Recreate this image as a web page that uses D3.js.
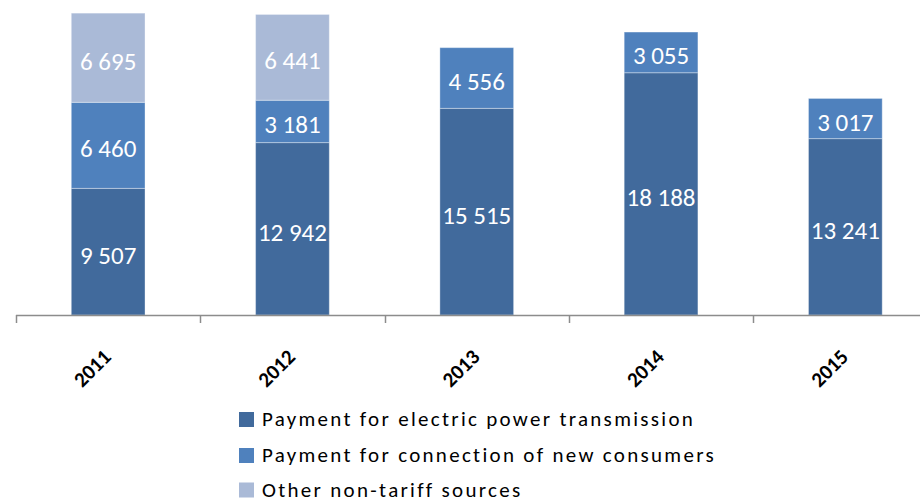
<!DOCTYPE html>
<html>
<head>
<meta charset="utf-8">
<script src="https://cdn.jsdelivr.net/npm/d3@7"></script>
<style>
  html, body { margin: 0; padding: 0; background: #fff; }
  svg { display: block; }
</style>
</head>
<body>
<svg id="chart" width="920" height="503"></svg>
<script>
const years = ["2011", "2012", "2013", "2014", "2015"];
const transmission = [9507, 12942, 15515, 18188, 13241];
const connection = [6460, 3181, 4556, 3055, 3017];
const otherSources = [6695, 6441, 0, 0, 0];
const seriesNames = [
  "Payment for electric power transmission",
  "Payment for connection of new consumers",
  "Other non-tariff sources"
];
const seriesColors = ["#416a9c", "#4f81bd", "#aabad7"];

const svg = d3.select("#chart");
const axisY = 315;
const fontFam = "Carlito, 'Open Sans', sans-serif";

const x = d3.scaleBand().domain(years).range([16, 16 + 5 * 184.3]).padding(0);
const y = d3.scaleLinear().domain([0, 25000]).range([axisY, axisY - 25000 * 0.01332]);

const seriesValues = [transmission, connection, otherSources];
const rows = years.map((yr, i) => {
  const r = { year: yr };
  seriesNames.forEach((s, k) => r[s] = seriesValues[k][i]);
  return r;
});
const stacked = d3.stack().keys(seriesNames)(rows);

const barW = x.bandwidth() * 0.4;
const fmt = v => d3.format(",")(v).replace(/,/g, " ");

const layers = svg.append("g").selectAll("g")
  .data(stacked).join("g")
  .attr("fill", (d, i) => seriesColors[i]);

layers.selectAll("rect")
  .data(d => d.filter(p => p[1] - p[0] > 0))
  .join("rect")
  .attr("x", d => x(d.data.year) + (x.bandwidth() - barW) / 2)
  .attr("width", barW)
  .attr("y", d => y(d[1]))
  .attr("height", d => y(d[0]) - y(d[1]))
  .attr("stroke", "rgba(255,255,255,0.35)")
  .attr("stroke-width", 1);

layers.selectAll("text")
  .data(d => d.filter(p => p[1] - p[0] > 0))
  .join("text")
  .attr("x", d => x(d.data.year) + x.bandwidth() / 2)
  .attr("y", d => (y(d[0]) + y(d[1])) / 2)
  .attr("dy", "0.48em")
  .attr("text-anchor", "middle")
  .attr("fill", "#ffffff")
  .attr("font-family", fontFam)
  .attr("font-size", 25)
  .text(d => fmt(d[1] - d[0]));

// x axis
const axisG = svg.append("g");
axisG.append("line")
  .attr("x1", x.range()[0]).attr("x2", 920)
  .attr("y1", axisY + 0.5).attr("y2", axisY + 0.5)
  .attr("stroke", "#8c8c8c").attr("stroke-width", 1.5);
axisG.selectAll("line.tick")
  .data(years).join("line")
  .attr("class", "tick")
  .attr("x1", d => Math.round(x(d)) + 0.5).attr("x2", d => Math.round(x(d)) + 0.5)
  .attr("y1", axisY).attr("y2", axisY + 8)
  .attr("stroke", "#8c8c8c").attr("stroke-width", 1.5);

axisG.selectAll("text")
  .data(years).join("text")
  .attr("transform", d => `translate(${x(d) + x.bandwidth() / 2 - 1},${axisY + 38}) rotate(-45)`)
  .attr("text-anchor", "end")
  .attr("dy", "0.35em")
  .attr("font-family", fontFam)
  .attr("font-weight", "bold")
  .attr("font-size", 21)
  .attr("fill", "#000")
  .text(d => d);

// legend
const legend = svg.append("g");
const legendRows = [419.5, 455.5, 490];
seriesNames.forEach((name, i) => {
  legend.append("rect")
    .attr("x", 239).attr("y", legendRows[i] - 7.5)
    .attr("width", 15).attr("height", 15)
    .attr("fill", seriesColors[i]);
  legend.append("text")
    .attr("x", 262).attr("y", legendRows[i])
    .attr("dy", "0.33em")
    .attr("font-family", fontFam)
    .attr("font-size", 21)
    .attr("letter-spacing", "2.3px")
    .attr("fill", "#000")
    .text(name);
});
</script>
</body>
</html>
